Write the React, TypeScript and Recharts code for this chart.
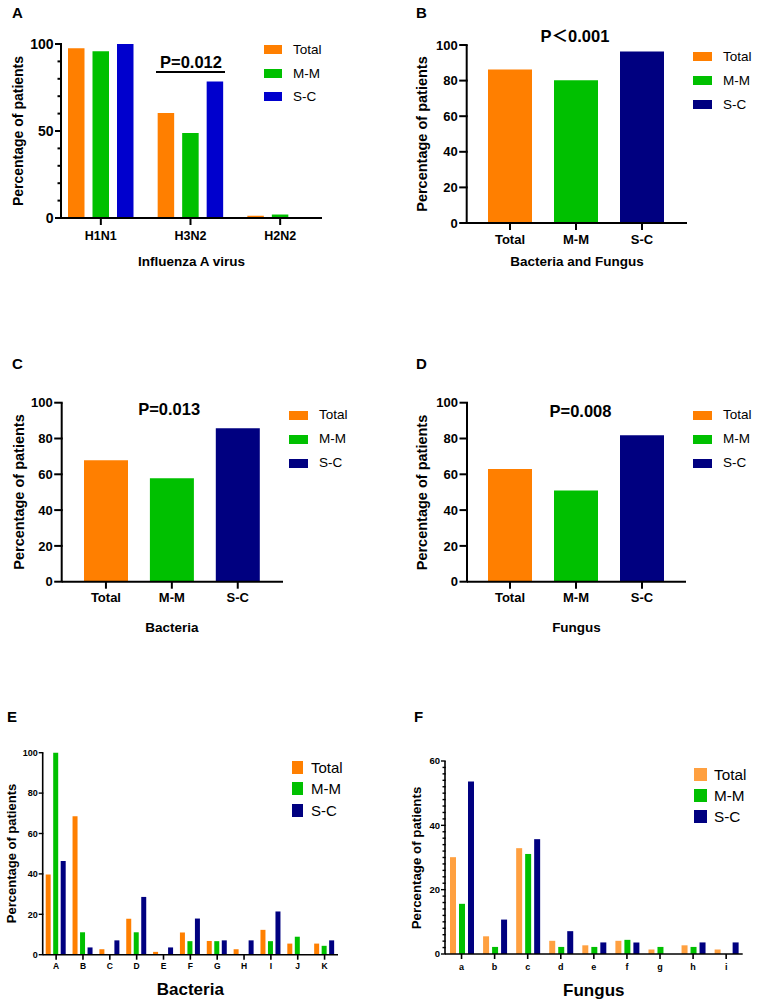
import React from 'react';
import { BarChart, Bar, XAxis, YAxis, Legend, Cell } from 'recharts';

const FONT = '"Liberation Sans", Arimo, Arial, "Noto Sans CJK SC", sans-serif';

const ORANGE = '#FF7F00';
const GREEN = '#00C000';
const BLUE = '#0000CD';
const NAVY = '#000080';
const LIGHT_ORANGE = '#FFA040';

// ---------- Panel A : Influenza A virus ----------
const fluCategories = ['H1N1', 'H3N2', 'H2N2'];
const fluTotal = [97.5, 60.4, 1.3];
const fluMM = [95.8, 48.9, 2.0];
const fluSC = [100, 78.4, 0];
const fluTicks = [0, 10, 20, 30, 40, 50, 60, 70, 80, 90, 100];
const fluTickLabels = [0, 50, 100];

// ---------- Panels B, C, D ----------
const groupNames = ['Total', 'M-M', 'S-C'];
const bacFungValues = [86.3, 80.2, 96.4];
const bacteriaValues = [67.8, 57.8, 85.7];
const fungusValues = [62.9, 50.9, 81.8];
const pctTicks = [0, 20, 40, 60, 80, 100];

// ---------- Panel E : Bacteria ----------
const bacteriaCategories = ['A', 'B', 'C', 'D', 'E', 'F', 'G', 'H', 'I', 'J', 'K'];
const bacTotal = [39.7, 68.5, 2.7, 17.8, 1.4, 11.0, 6.8, 2.7, 12.3, 5.5, 5.5];
const bacMM = [100, 11.1, 0, 11.1, 0, 6.7, 6.7, 0, 6.7, 8.9, 4.4];
const bacSC = [46.4, 3.6, 7.1, 28.6, 3.6, 17.9, 7.1, 7.1, 21.4, 0, 7.1];

// ---------- Panel F : Fungus ----------
const fungusCategories = ['a', 'b', 'c', 'd', 'e', 'f', 'g', 'h', 'i'];
const funTotal = [30.1, 5.5, 32.9, 4.1, 2.7, 4.1, 1.4, 2.7, 1.4];
const funMM = [15.6, 2.2, 31.1, 2.2, 2.2, 4.4, 2.2, 2.2, 0];
const funSC = [53.6, 10.7, 35.7, 7.1, 3.6, 3.6, 0, 3.6, 3.6];
const funTicks = [0, 2, 4, 6, 8, 10, 12, 14, 16, 18, 20, 22, 24, 26, 28, 30, 32, 34, 36, 38, 40, 42, 44, 46, 48, 50, 52, 54, 56, 58, 60];
const funTickLabels = [0, 20, 40, 60];

const threeSeries = (cats: string[], t: number[], m: number[], s: number[]) =>
  cats.map((c, i) => ({ name: c, Total: t[i], 'M-M': m[i], 'S-C': s[i] }));

const singleSeries = (vals: number[]) => groupNames.map((g, i) => ({ name: g, value: vals[i] }));

type TickOpts = { labels: number[]; major: number; minor: number; gap: number; sw: number; fs: number };

const makeYTick = (o: TickOpts) => (props: any) => {
  const { x, y, payload } = props;
  const v = payload.value;
  const isMajor = o.labels.indexOf(v) >= 0;
  const len = isMajor ? o.major : o.minor;
  return (
    <g>
      <line x1={x - len} y1={y} x2={x + o.sw / 2} y2={y} stroke="#000" strokeWidth={o.sw} />
      {isMajor ? (
        <text
          x={x - len - o.gap}
          y={y}
          dy="0.36em"
          textAnchor="end"
          fontSize={o.fs}
          fontWeight="bold"
          fontFamily={FONT}
          fill="#000"
        >
          {v}
        </text>
      ) : null}
    </g>
  );
};

type LegendCfg = { swW: number; swH: number; gap: number; rowH: number; fs: number };

const makeLegend = (items: { name: string; color: string }[], c: LegendCfg) => () => (
  <div style={{ display: 'flex', flexDirection: 'column' }}>
    {items.map((it) => (
      <div key={it.name} style={{ display: 'flex', alignItems: 'center', height: c.rowH }}>
        <div style={{ width: c.swW, height: c.swH, background: it.color, flex: 'none' }} />
        <span
          style={{
            marginLeft: c.gap,
            fontSize: c.fs,
            fontFamily: FONT,
            color: '#000',
            lineHeight: 1,
            whiteSpace: 'nowrap',
          }}
        >
          {it.name}
        </span>
      </div>
    ))}
  </div>
);

type Geo = { left: number; top: number; w: number; h: number; pl: number; pr: number; pt: number; pb: number; xh: number };

const margins = (g: Geo) => ({ top: g.pt, right: g.w - g.pr, bottom: g.h - g.pb - g.xh, left: 0 });

const box = (g: Geo): React.CSSProperties => ({ position: 'absolute', left: g.left, top: g.top, width: g.w, height: g.h });

// ---------- geometry (plot areas in local coords) ----------
const geoA: Geo = { left: 0, top: 0, w: 380, h: 290, pl: 61, pr: 322, pt: 44, pb: 218, xh: 30 };
const geoB: Geo = { left: 380, top: 0, w: 379, h: 290, pl: 86.7, pr: 307, pt: 45, pb: 223, xh: 30 };
const geoC: Geo = { left: 0, top: 330, w: 380, h: 290, pl: 61.7, pr: 283, pt: 72.7, pb: 251.7, xh: 30 };
const geoD: Geo = { left: 380, top: 330, w: 379, h: 290, pl: 87, pr: 306, pt: 72.7, pb: 251.7, xh: 30 };
const geoE: Geo = { left: 0, top: 680, w: 380, h: 320, pl: 42.7, pr: 338, pt: 72.7, pb: 274.7, xh: 30 };
const geoF: Geo = { left: 380, top: 680, w: 379, h: 320, pl: 65, pr: 362.7, pt: 81, pb: 274, xh: 30 };

const axisStroke = (sw: number) => ({ stroke: '#000', strokeWidth: sw });

function PanelA() {
  const data = threeSeries(fluCategories, fluTotal, fluMM, fluSC);
  const items = [
    { name: 'Total', color: ORANGE },
    { name: 'M-M', color: GREEN },
    { name: 'S-C', color: BLUE },
  ];
  return (
    <div style={box(geoA)}>
      <BarChart width={geoA.w} height={geoA.h} data={data} margin={margins(geoA)} barGap={8}>
        <XAxis
          dataKey="name"
          height={geoA.xh}
          interval={0}
          padding={{ left: -5, right: -3 }}
          tickSize={7}
          tickMargin={6}
          axisLine={axisStroke(2)}
          tickLine={axisStroke(2)}
          tick={{ fill: '#000', fontSize: 12.5, fontWeight: 'bold', fontFamily: FONT }}
        />
        <YAxis
          width={geoA.pl}
          domain={[0, 100]}
          ticks={fluTicks}
          interval={0}
          tickSize={0}
          tickMargin={0}
          tickLine={false}
          axisLine={axisStroke(2)}
          tick={makeYTick({ labels: fluTickLabels, major: 6, minor: 3.5, gap: 1.5, sw: 2, fs: 14 })}
        />
        <Legend
          layout="vertical"
          align="center"
          verticalAlign="middle"
          wrapperStyle={{ left: 264, top: 38.2, width: 'auto' }}
          content={makeLegend(items, { swW: 18, swH: 9, gap: 11, rowH: 23.5, fs: 13.5 })}
        />
        <Bar dataKey="Total" name="Total" fill={ORANGE} barSize={16.5} isAnimationActive={false} />
        <Bar dataKey="M-M" name="M-M" fill={GREEN} barSize={16.5} isAnimationActive={false} />
        <Bar dataKey="S-C" name="S-C" fill={BLUE} barSize={16.5} isAnimationActive={false} />
      </BarChart>
    </div>
  );
}

const groupColors = [ORANGE, GREEN, NAVY];

function SinglePanel({ geo, values, padL, padR, legendLeft, legendTop }: any) {
  const data = singleSeries(values);
  const items = groupNames.map((g, i) => ({ name: g, color: groupColors[i] }));
  return (
    <div style={box(geo)}>
      <BarChart width={geo.w} height={geo.h} data={data} margin={margins(geo)}>
        <XAxis
          dataKey="name"
          height={geo.xh}
          interval={0}
          padding={{ left: padL, right: padR }}
          tickSize={7}
          tickMargin={4.5}
          axisLine={axisStroke(2)}
          tickLine={axisStroke(2)}
          tick={{ fill: '#000', fontSize: 13, fontWeight: 'bold', fontFamily: FONT }}
        />
        <YAxis
          width={geo.pl}
          domain={[0, 100]}
          ticks={pctTicks}
          interval={0}
          tickSize={0}
          tickMargin={0}
          tickLine={false}
          axisLine={axisStroke(2)}
          tick={makeYTick({ labels: pctTicks, major: 7.5, minor: 4, gap: 1.5, sw: 2, fs: 13 })}
        />
        <Legend
          layout="vertical"
          align="center"
          verticalAlign="middle"
          wrapperStyle={{ left: legendLeft, top: legendTop, width: 'auto' }}
          content={makeLegend(items, { swW: 19, swH: 9, gap: 11, rowH: 24, fs: 13.5 })}
        />
        <Bar dataKey="value" name="Percentage of patients" barSize={44} isAnimationActive={false}>
          {data.map((d, i) => (
            <Cell key={d.name} fill={groupColors[i]} />
          ))}
        </Bar>
      </BarChart>
    </div>
  );
}

function MultiPanel({ geo, cats, t, m, s, totalColor, ticks, tickLabels, domainMax, barSize, barGap, legendLeft, legendTop, legendCfg, xfs, yfs, tickMargin }: any) {
  const data = threeSeries(cats, t, m, s);
  const items = [
    { name: 'Total', color: totalColor },
    { name: 'M-M', color: GREEN },
    { name: 'S-C', color: NAVY },
  ];
  return (
    <div style={box(geo)}>
      <BarChart width={geo.w} height={geo.h} data={data} margin={margins(geo)} barGap={barGap}>
        <XAxis
          dataKey="name"
          height={geo.xh}
          interval={0}
          tickSize={5}
          tickMargin={tickMargin}
          axisLine={axisStroke(1.6)}
          tickLine={axisStroke(1.6)}
          tick={{ fill: '#000', fontSize: xfs, fontWeight: 'bold', fontFamily: FONT }}
        />
        <YAxis
          width={geo.pl}
          domain={[0, domainMax]}
          ticks={ticks}
          interval={0}
          tickSize={0}
          tickMargin={0}
          tickLine={false}
          axisLine={axisStroke(1.6)}
          tick={makeYTick({ labels: tickLabels, major: 4, minor: 2.5, gap: 1, sw: 1.4, fs: yfs })}
        />
        <Legend
          layout="vertical"
          align="center"
          verticalAlign="middle"
          wrapperStyle={{ left: legendLeft, top: legendTop, width: 'auto' }}
          content={makeLegend(items, legendCfg)}
        />
        <Bar dataKey="Total" name="Total" fill={totalColor} barSize={barSize} isAnimationActive={false} />
        <Bar dataKey="M-M" name="M-M" fill={GREEN} barSize={barSize} isAnimationActive={false} />
        <Bar dataKey="S-C" name="S-C" fill={NAVY} barSize={barSize} isAnimationActive={false} />
      </BarChart>
    </div>
  );
}

const txt = { fontFamily: FONT, fill: '#000' } as const;

function Overlay() {
  const yTitle = (x: number, y: number, fs: number) => (
    <text
      key={`yt-${x}-${y}`}
      x={x}
      y={y}
      transform={`rotate(-90 ${x} ${y})`}
      textAnchor="middle"
      dominantBaseline="central"
      fontSize={fs}
      fontWeight="bold"
      {...txt}
    >
      Percentage of patients
    </text>
  );
  const bold = (s: string, x: number, y: number, fs: number, anchor: any = 'middle') => (
    <text key={`${s}-${x}-${y}`} x={x} y={y} textAnchor={anchor} fontSize={fs} fontWeight="bold" {...txt}>
      {s}
    </text>
  );
  return (
    <svg
      width={759}
      height={1005}
      style={{ position: 'absolute', left: 0, top: 0, pointerEvents: 'none' }}
    >
      {bold('A', 12, 18, 15, 'start')}
      {bold('B', 416, 18, 15, 'start')}
      {bold('C', 12, 369, 15, 'start')}
      {bold('D', 416, 369, 15, 'start')}
      {bold('E', 7, 721.5, 15, 'start')}
      {bold('F', 414, 722, 15, 'start')}

      {yTitle(18, 131, 14)}
      {yTitle(421.5, 134, 14.5)}
      {yTitle(18.5, 492, 14.5)}
      {yTitle(421.7, 492.5, 14.5)}
      {yTitle(11.5, 853.5, 13)}
      {yTitle(416, 858, 13.3)}

      {bold('Influenza A virus', 191.5, 266, 13.5)}
      {bold('Bacteria and Fungus', 577, 266, 13.5)}
      {bold('Bacteria', 172, 632, 13.5)}
      {bold('Fungus', 576.5, 632, 13.5)}
      {bold('Bacteria', 190.3, 995, 17)}
      {bold('Fungus', 593.8, 996, 17)}

      {bold('P=0.012', 191, 68.3, 16.5)}
      <line x1={156} y1={72} x2={225} y2={72} stroke="#000" strokeWidth={2} />
      {bold('P＜0.001', 575, 41.7, 16.5)}
      {bold('P=0.013', 169.2, 415, 16.5)}
      {bold('P=0.008', 580.5, 416.5, 16.5)}
    </svg>
  );
}

export default function App() {
  return (
    <div style={{ position: 'absolute', left: 0, top: 0, width: 759, height: 1005, background: '#fff', overflow: 'hidden' }}>
      <PanelA />
      <SinglePanel geo={geoB} values={bacFungValues} padL={10.3} padR={12} legendLeft={313} legendTop={44.7} />
      <SinglePanel geo={geoC} values={bacteriaValues} padL={11.3} padR={12.3} legendLeft={289} legendTop={73} />
      <SinglePanel geo={geoD} values={fungusValues} padL={10} padR={11} legendLeft={313} legendTop={73} />
      <MultiPanel
        geo={geoE}
        cats={bacteriaCategories}
        t={bacTotal}
        m={bacMM}
        s={bacSC}
        totalColor={ORANGE}
        ticks={pctTicks}
        tickLabels={pctTicks}
        domainMax={100}
        barSize={5}
        barGap={2.5}
        legendLeft={292}
        legendTop={77.1}
        legendCfg={{ swW: 11, swH: 13, gap: 8, rowH: 21.2, fs: 15 }}
        xfs={8.5}
        yfs={9}
        tickMargin={3.6}
      />
      <MultiPanel
        geo={geoF}
        cats={fungusCategories}
        t={funTotal}
        m={funMM}
        s={funSC}
        totalColor={LIGHT_ORANGE}
        ticks={funTicks}
        tickLabels={funTickLabels}
        domainMax={60}
        barSize={6}
        barGap={3}
        legendLeft={314}
        legendTop={83.6}
        legendCfg={{ swW: 12.5, swH: 13, gap: 7.5, rowH: 21.3, fs: 15.3 }}
        xfs={9}
        yfs={9.5}
        tickMargin={4.6}
      />
      <Overlay />
    </div>
  );
}
